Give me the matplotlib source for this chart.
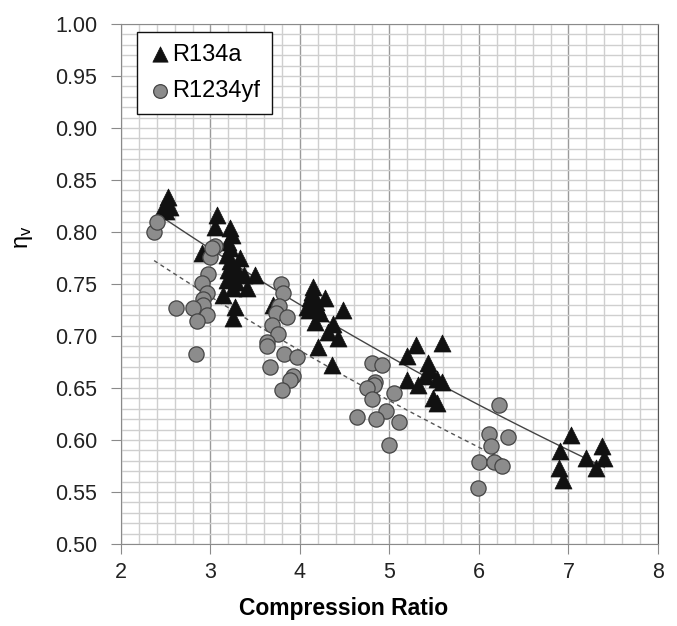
import numpy as np
import matplotlib
matplotlib.use("Agg")
import matplotlib.pyplot as plt
from matplotlib.ticker import MultipleLocator

plt.rcParams['font.family'] = ['Liberation Sans', 'DejaVu Sans']

# R134a measurements (compression ratio, volumetric efficiency)
r134a_cr = [2.53, 2.47, 2.55, 2.50,
            3.07, 3.05, 3.22, 3.24, 3.20, 3.22, 2.90, 3.18, 3.33, 3.24, 3.20, 3.37,
            3.50, 3.18, 3.29, 3.25, 3.41, 3.14, 3.27, 3.25, 3.28, 3.30, 3.22,
            3.70,
            4.15, 4.11, 4.28, 4.08, 4.19, 4.48, 4.17, 4.37, 4.31, 4.42, 4.20, 4.36,
            4.22, 4.13, 4.18, 4.10,
            5.30, 5.59, 5.20, 5.43, 5.45, 5.40, 5.53, 5.59, 5.20, 5.32, 5.49, 5.53,
            7.03, 6.90, 7.20, 7.37, 7.40, 7.31, 6.89, 6.94]
r134a_eta = [0.834, 0.823, 0.824, 0.820,
             0.816, 0.805, 0.804, 0.797, 0.790, 0.785, 0.780, 0.778, 0.775, 0.770, 0.763, 0.759,
             0.759, 0.754, 0.752, 0.746, 0.746, 0.739, 0.728, 0.717, 0.765, 0.760, 0.772,
             0.730,
             0.747, 0.737, 0.737, 0.728, 0.728, 0.725, 0.713, 0.712, 0.704, 0.698, 0.689, 0.672,
             0.722, 0.742, 0.733, 0.725,
             0.691, 0.693, 0.681, 0.674, 0.667, 0.662, 0.659, 0.656, 0.658, 0.653, 0.640, 0.636,
             0.605, 0.589, 0.583, 0.594, 0.583, 0.573, 0.573, 0.562]

# R1234yf measurements
r1234yf_cr = [2.37, 2.40, 3.05, 2.99, 2.97, 2.90, 2.96, 2.92, 2.92, 2.80, 2.61, 2.96, 2.85, 2.84, 3.02,
              3.79, 3.81, 3.77, 3.73, 3.85, 3.69, 3.75, 3.63, 3.63, 3.82, 3.97, 3.67, 3.92, 3.89, 3.80,
              4.80, 4.92, 4.84, 4.83, 4.75, 5.05, 4.80, 4.96, 4.64, 4.85, 5.11, 5.00,
              6.22, 6.11, 6.32, 6.13, 6.00, 6.17, 6.26, 5.99]
r1234yf_eta = [0.800, 0.810, 0.787, 0.776, 0.760, 0.751, 0.741, 0.736, 0.730, 0.727, 0.727, 0.720, 0.714, 0.683, 0.785,
               0.750, 0.741, 0.729, 0.722, 0.718, 0.711, 0.702, 0.694, 0.690, 0.683, 0.680, 0.670, 0.662, 0.658, 0.648,
               0.674, 0.672, 0.656, 0.653, 0.650, 0.645, 0.639, 0.628, 0.622, 0.620, 0.617, 0.595,
               0.634, 0.606, 0.603, 0.594, 0.579, 0.579, 0.575, 0.554]


def exp_trend(x, y):
    # exponential trendline y = a*exp(b*x), over the data range
    x = np.asarray(x)
    b, ln_a = np.polyfit(x, np.log(y), 1)
    xs = np.linspace(x.min(), x.max(), 100)
    return xs, np.exp(ln_a) * np.exp(b * xs)


fig = plt.figure(figsize=(6.77, 6.26), dpi=100)
ax = fig.add_axes([0.1787, 0.131, 0.7932, 0.8307])

# grid
ax.set_xlim(2, 8)
ax.set_ylim(0.5, 1.0)
ax.xaxis.set_major_locator(MultipleLocator(1))
ax.xaxis.set_minor_locator(MultipleLocator(0.2))
ax.yaxis.set_major_locator(MultipleLocator(0.05))
ax.yaxis.set_minor_locator(MultipleLocator(0.01))
ax.grid(which='minor', color='#cfcfcf', lw=1.0)
ax.grid(which='major', axis='y', color='#cfcfcf', lw=1.0)
ax.grid(which='major', axis='x', color='#9a9a9a', lw=1.0)
ax.set_axisbelow(True)

# trendlines
tx, ty = exp_trend(r134a_cr, r134a_eta)
ax.plot(tx, ty, color='#444444', lw=1.0, zorder=2)
tx, ty = exp_trend(r1234yf_cr, r1234yf_eta)
ax.plot(tx, ty, color='#555555', lw=1.0, ls=(0, (3, 2.5)), zorder=2)

ax.scatter(r134a_cr, r134a_eta, marker='^', s=150, color='#111111',
           edgecolors='#111111', lw=0.5, zorder=3, label='R134a')
ax.scatter(r1234yf_cr, r1234yf_eta, marker='o', s=120, color='#8c8c8c',
           edgecolors='#444444', lw=0.9, zorder=3, label='R1234yf')

# axis styling
for side in ['left', 'bottom', 'top']:
    ax.spines[side].set_color('#8a8a8a')
ax.spines['right'].set_color('#555555')
ax.tick_params(which='major', length=7, color='#8a8a8a', labelsize=15.5,
               labelcolor='#222222')
ax.tick_params(axis='y', pad=10)
ax.tick_params(axis='x', pad=6)
ax.tick_params(which='minor', length=0)
ax.set_yticks(np.arange(0.5, 1.001, 0.05))
ax.set_yticklabels(['%.2f' % v for v in np.arange(0.5, 1.001, 0.05)])

ax.set_xlabel('Compression Ratio', fontsize=16.5, fontweight='bold')
ax.xaxis.set_label_coords(0.415, -0.102)
ax.set_ylabel(r'$\mathregular{\eta_v}$', fontsize=17)
ax.yaxis.set_label_coords(-0.16, 0.59)

leg = ax.legend(loc='upper left', bbox_to_anchor=(0.03, 0.985), borderaxespad=0,
                fontsize=17, handletextpad=0.1, handlelength=0.9,
                labelspacing=0.6, borderpad=0.5, fancybox=False,
                framealpha=1, edgecolor='#111111', scatterpoints=1,
                markerscale=0.9)
leg.get_frame().set_linewidth(1.0)

fig.savefig('out.png', dpi=100)
